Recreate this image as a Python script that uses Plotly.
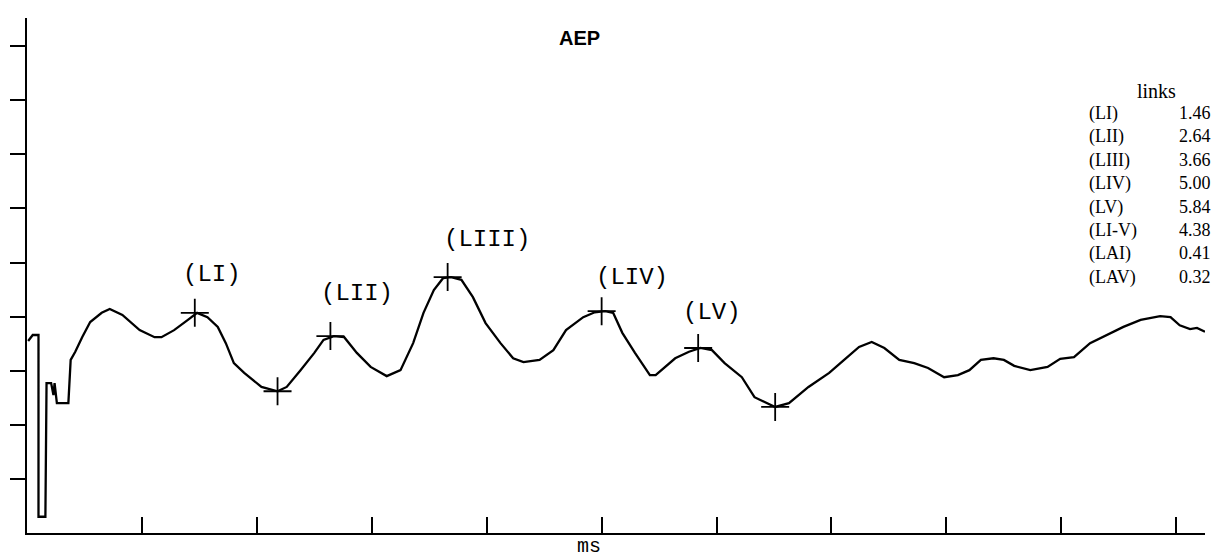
import plotly.graph_objects as go

# Waveform (ms, arbitrary units; axis ticks at 1 unit)
t_ms = [0.01, 0.05, 0.10, 0.10, 0.16, 0.17, 0.21, 0.23, 0.24, 0.26, 0.36, 0.38, 0.42, 0.48, 0.55,
        0.65, 0.72, 0.83, 0.98, 1.11, 1.17, 1.28, 1.40, 1.48, 1.57, 1.66, 1.73, 1.80, 1.89, 2.04,
        2.18, 2.26, 2.38, 2.50, 2.58, 2.67, 2.76, 2.87, 2.99, 3.13, 3.25, 3.36, 3.45, 3.54, 3.62,
        3.69, 3.78, 3.88, 3.99, 4.12, 4.23, 4.32, 4.46, 4.58, 4.69, 4.84, 4.94, 5.03, 5.10, 5.18,
        5.29, 5.42, 5.47, 5.64, 5.76, 5.86, 5.96, 6.07, 6.22, 6.33, 6.51, 6.63, 6.80, 6.98, 7.11,
        7.24, 7.35, 7.46, 7.59, 7.72, 7.84, 7.98, 8.10, 8.20, 8.30, 8.41, 8.50, 8.59, 8.73, 8.88,
        8.99, 9.11, 9.25, 9.40, 9.54, 9.69, 9.86, 9.95, 10.03, 10.12, 10.18, 10.25]
amp = [3.55, 3.66, 3.66, 0.30, 0.30, 2.77, 2.77, 2.55, 2.77, 2.40, 2.40, 3.20, 3.35, 3.62, 3.90,
       4.07, 4.14, 4.03, 3.75, 3.62, 3.62, 3.75, 3.94, 4.07, 3.99, 3.81, 3.51, 3.14, 2.96, 2.70,
       2.62, 2.70, 3.01, 3.33, 3.57, 3.64, 3.62, 3.33, 3.07, 2.90, 3.01, 3.51, 4.07, 4.49, 4.71,
       4.73, 4.68, 4.36, 3.88, 3.51, 3.23, 3.16, 3.20, 3.38, 3.75, 3.99, 4.08, 4.10, 4.07, 3.70,
       3.33, 2.92, 2.92, 3.23, 3.35, 3.42, 3.38, 3.14, 2.88, 2.51, 2.33, 2.40, 2.70, 2.96, 3.20,
       3.44, 3.53, 3.42, 3.20, 3.14, 3.05, 2.88, 2.92, 3.01, 3.20, 3.23, 3.20, 3.09, 3.01, 3.07,
       3.22, 3.25, 3.51, 3.66, 3.81, 3.94, 4.01, 3.99, 3.84, 3.77, 3.79, 3.72]

# Cursor marks on the waveform
mark_ms = [1.46, 2.18, 2.64, 3.66, 5.00, 5.84, 6.51]
mark_amp = [4.07, 2.62, 3.64, 4.73, 4.10, 3.42, 2.33]

# Peak labels (peak latency / amplitude)
peak_names = ["(LI)", "(LII)", "(LIII)", "(LIV)", "(LV)"]
peak_ms = [1.46, 2.64, 3.66, 5.00, 5.84]
peak_amp = [4.07, 3.64, 4.73, 4.10, 3.42]

# Result table
table_title = "links"
table_names = ["(LI)", "(LII)", "(LIII)", "(LIV)", "(LV)", "(LI-V)", "(LAI)", "(LAV)"]
table_values = ["1.46", "2.64", "3.66", "5.00", "5.84", "4.38", "0.41", "0.32"]

x_ticks = [1, 2, 3, 4, 5, 6, 7, 8, 9, 10]
y_ticks = [1, 2, 3, 4, 5, 6, 7, 8, 9]

W, H = 1223, 560
ML, MR, MT, MB = 22, 18, 18, 27
PW, PH = W - ML - MR, H - MT - MB

def px(xp):
    return (xp - ML) / PW

def py(yp):
    return (H - MB - yp) / PH

fig = go.Figure()
fig.add_trace(go.Scatter(x=t_ms, y=amp, mode="lines",
                         line=dict(color="black", width=2.3), hoverinfo="skip"))
fig.add_trace(go.Scatter(x=mark_ms, y=mark_amp, mode="markers",
                         marker=dict(symbol="cross-thin", size=20,
                                     line=dict(color="black", width=1.8)),
                         hoverinfo="skip"))

label_font = dict(family="Courier New, Liberation Mono, monospace", size=24, color="black")
label_shift = [(17, 38), (27, 43), (39, 38), (30, 34), (14, 35)]
for name, xm, ya, (dx, dy) in zip(peak_names, peak_ms, peak_amp, label_shift):
    fig.add_annotation(x=xm, y=ya, text=name, showarrow=False, xshift=dx, yshift=dy,
                       font=label_font, xanchor="center", yanchor="middle")

fig.add_annotation(xref="paper", yref="paper", x=px(577), y=py(38), text="<b>AEP</b>",
                   showarrow=False, font=dict(family="Liberation Sans, Arial", size=20, color="black"),
                   xanchor="center", yanchor="middle")
fig.add_annotation(xref="paper", yref="paper", x=px(586), y=py(546), text="ms",
                   showarrow=False, font=dict(family="Courier New, Liberation Mono, monospace", size=20, color="black"),
                   xanchor="center", yanchor="middle")

tfont = dict(family="Liberation Serif, Times New Roman, serif", size=18, color="black")
fig.add_annotation(xref="paper", yref="paper", x=px(1156), y=py(91), text=table_title,
                   showarrow=False, font=dict(family="Liberation Serif, Times New Roman, serif", size=20, color="black"),
                   xanchor="center", yanchor="middle")
fig.add_annotation(xref="paper", yref="paper", x=px(1087), y=py(101), text="<br>".join(table_names),
                   showarrow=False, font=tfont, xanchor="left", yanchor="top", align="left")
fig.add_annotation(xref="paper", yref="paper", x=px(1213), y=py(101), text="<br>".join(table_values),
                   showarrow=False, font=tfont, xanchor="right", yanchor="top", align="right")

fig.update_layout(
    width=W, height=H, margin=dict(l=ML, r=MR, t=MT, b=MB),
    paper_bgcolor="white", plot_bgcolor="white", showlegend=False,
    xaxis=dict(range=[0, 10.25], tickvals=x_ticks, showticklabels=False, ticks="inside",
               ticklen=16, tickwidth=2, tickcolor="black", showline=True, linecolor="black",
               linewidth=2, showgrid=False, zeroline=False, fixedrange=True),
    yaxis=dict(range=[0, 9.52], tickvals=y_ticks, showticklabels=False, ticks="outside",
               ticklen=15, tickwidth=2, tickcolor="black", showline=True, linecolor="black",
               linewidth=2, showgrid=False, zeroline=False, fixedrange=True),
)
fig.write_html("out.html", config={"displayModeBar": False})
